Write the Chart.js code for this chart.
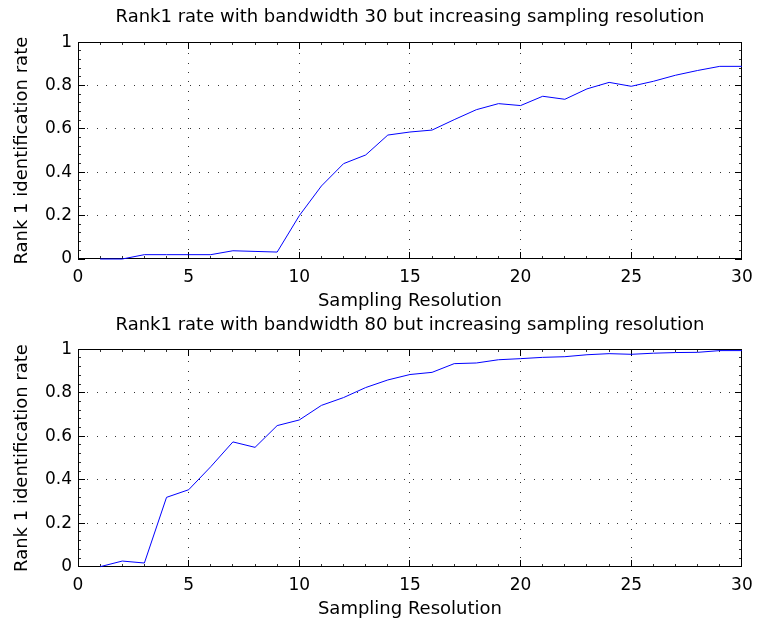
<!DOCTYPE html>
<html>
<head>
<meta charset="utf-8">
<script src="https://cdn.jsdelivr.net/npm/chart.js@4.4.1/dist/chart.umd.min.js"></script>
<style>
  html, body { margin: 0; padding: 0; background: #ffffff; }
  body { width: 761px; height: 621px; position: relative; overflow: hidden; }
  canvas { position: absolute; left: 0; }
</style>
</head>
<body>
<canvas id="c1" width="761" height="312" style="top:0px;width:761px;height:312px"></canvas>
<canvas id="c2" width="761" height="309" style="top:312px;width:761px;height:309px"></canvas>
<script>
// ---------- data ----------
const samplingResolution = [1,2,3,4,5,6,7,8,9,10,11,12,13,14,15,16,17,18,19,20,21,22,23,24,25,26,27,28,29,30];
const rateBandwidth30 = [0, 0, 0.02, 0.02, 0.02, 0.02, 0.038, 0.035, 0.032, 0.2,
                         0.337, 0.44, 0.48, 0.572, 0.586, 0.595, 0.643, 0.689, 0.717, 0.708,
                         0.751, 0.737, 0.785, 0.815, 0.797, 0.82, 0.848, 0.87, 0.889, 0.889];
const rateBandwidth80 = [0, 0.026, 0.017, 0.319, 0.354, 0.46, 0.574, 0.549, 0.649, 0.675,
                         0.742, 0.778, 0.824, 0.859, 0.884, 0.894, 0.934, 0.937, 0.952, 0.957,
                         0.963, 0.966, 0.975, 0.98, 0.977, 0.982, 0.985, 0.986, 0.994, 0.994];
const xTickValues = [0, 5, 10, 15, 20, 25, 30];
const xTickLabels = ['0', '5', '10', '15', '20', '25', '30'];
const yTickValues = [0, 0.2, 0.4, 0.6, 0.8, 1];
const yTickLabels = ['0', '0.2', '0.4', '0.6', '0.8', '1'];
const titleTop = 'Rank1 rate with bandwidth 30 but increasing sampling resolution';
const titleBottom = 'Rank1 rate with bandwidth 80 but increasing sampling resolution';
const xAxisTitle = 'Sampling Resolution';
const yAxisTitle = 'Rank 1 identification rate';

// ---------- styling ----------
Chart.defaults.font.family = "'DejaVu Sans', 'Liberation Sans', Arial, sans-serif";
Chart.defaults.color = '#000000';

const X_MINOR_STEP = 1;
const Y_MINOR_STEP = 0.04;
const DOT_SPACING = 9.3;

const matlabAxes = {
  id: 'matlabAxes',
  beforeDatasetsDraw(chart) {
    const {ctx, chartArea: a, scales: {x, y}} = chart;
    const L = Math.round(a.left), R = Math.round(a.right) - 1;
    const T = Math.round(a.top), B = Math.round(a.bottom) - 1;
    ctx.save();
    // dotted grid
    ctx.fillStyle = 'rgba(0,0,0,0.8)';
    xTickValues.forEach(v => {
      const px = Math.round(x.getPixelForValue(v) - 0.5);
      if (px <= L + 1 || px >= R - 1) return;
      for (let p = B; p >= T; p -= DOT_SPACING) {
        ctx.fillRect(px, Math.round(p), 1, 1);
      }
    });
    yTickValues.forEach(v => {
      const py = Math.round(y.getPixelForValue(v) - 0.5);
      if (py <= T + 1 || py >= B - 1) return;
      for (let p = L; p <= R; p += DOT_SPACING) {
        ctx.fillRect(Math.round(p), py, 1, 1);
      }
    });
    // minor ticks
    ctx.fillStyle = 'rgba(0,0,0,0.8)';
    for (let v = x.min; v <= x.max + 1e-9; v += X_MINOR_STEP) {
      const px = Math.round(x.getPixelForValue(v) - 0.5);
      ctx.fillRect(px, B - 2, 1, 3);
      ctx.fillRect(px, T, 1, 3);
    }
    for (let v = y.min; v <= y.max + 1e-9; v += Y_MINOR_STEP) {
      const py = Math.round(y.getPixelForValue(v) - 0.5);
      ctx.fillRect(L, py, 3, 1);
      ctx.fillRect(R - 2, py, 3, 1);
    }
    // major ticks
    ctx.fillStyle = '#000000';
    xTickValues.forEach(v => {
      const px = Math.round(x.getPixelForValue(v) - 0.5);
      ctx.fillRect(px, B - 6, 1, 7);
      ctx.fillRect(px, T, 1, 7);
    });
    yTickValues.forEach(v => {
      const py = Math.round(y.getPixelForValue(v) - 0.5);
      ctx.fillRect(L, py, 7, 1);
      ctx.fillRect(R - 6, py, 7, 1);
    });
    // box
    ctx.fillRect(L, T, R - L + 1, 1);
    ctx.fillRect(L, B, R - L + 1, 1);
    ctx.fillRect(L, T, 1, B - T + 1);
    ctx.fillRect(R, T, 1, B - T + 1);
    ctx.restore();
  }
};

function makeChart(canvasId, values, titleText, titlePad, xAxisHeight, xTitlePadBottom) {
  const points = samplingResolution.map((sx, i) => ({x: sx, y: values[i]}));
  return new Chart(document.getElementById(canvasId), {
    type: 'line',
    data: {
      datasets: [{
        data: points,
        borderColor: '#0000ff',
        borderWidth: 1,
        pointRadius: 0,
        tension: 0,
        fill: false,
        clip: 2
      }]
    },
    options: {
      responsive: false,
      animation: false,
      devicePixelRatio: 1,
      layout: { padding: { left: 0, right: 12, top: 0, bottom: 0 } },
      plugins: {
        legend: { display: false },
        tooltip: { enabled: false },
        title: {
          display: true,
          text: titleText,
          fullSize: false,
          color: '#000000',
          font: { size: 18, weight: 'normal', lineHeight: 1.2 },
          padding: titlePad
        }
      },
      scales: {
        x: {
          type: 'linear',
          min: 0,
          max: 30,
          afterBuildTicks: s => { s.ticks = xTickValues.map(v => ({value: v})); },
          afterFit: s => { s.height = xAxisHeight; },
          grid: { display: false, drawTicks: false },
          border: { display: false },
          ticks: {
            autoSkip: false,
            maxRotation: 0,
            padding: 8.3,
            font: { size: 17, lineHeight: 1.2 },
            color: '#000000',
            callback: (val, idx) => xTickLabels[idx]
          },
          title: {
            display: true,
            text: xAxisTitle,
            color: '#000000',
            font: { size: 18, lineHeight: 1.2 },
            padding: { top: 0, bottom: xTitlePadBottom }
          }
        },
        y: {
          type: 'linear',
          min: 0,
          max: 1,
          afterBuildTicks: s => { s.ticks = yTickValues.map(v => ({value: v})); },
          afterFit: s => { s.width = 78; },
          grid: { display: false, drawTicks: false },
          border: { display: false },
          ticks: {
            autoSkip: false,
            padding: 6,
            font: { size: 17, lineHeight: 1.2 },
            color: '#000000',
            callback: (val, idx) => yTickLabels[idx]
          },
          title: {
            display: true,
            text: yAxisTitle,
            color: '#000000',
            font: { size: 18, lineHeight: 1.2 },
            padding: { top: 11.2, bottom: 0 }
          }
        }
      }
    },
    plugins: [matlabAxes]
  });
}

makeChart('c1', rateBandwidth30, titleTop, {top: 7, bottom: 13.7}, 53, 0);
makeChart('c2', rateBandwidth80, titleBottom, {top: 3, bottom: 12.7}, 54.3, 1);
</script>
</body>
</html>
